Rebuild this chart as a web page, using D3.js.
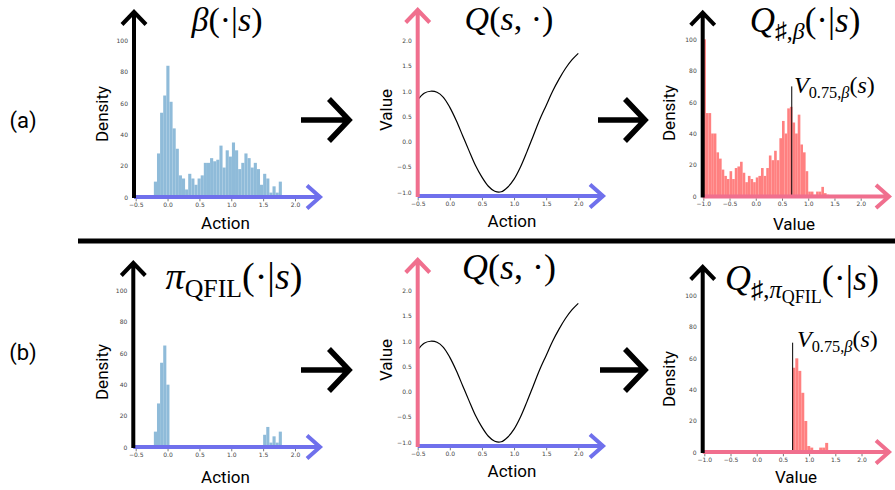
<!DOCTYPE html>
<html>
<head>
<meta charset="utf-8">
<script src="https://cdn.jsdelivr.net/npm/d3@7"></script>
<style>
  body { margin: 0; background: #fff; }
  svg { display: block; }
</style>
</head>
<body>
<div class="canvas"></div>
<script>
// ---- data ----
const actionTicks = [-0.5, 0, 0.5, 1, 1.5, 2];
const valueTicks = [-1, -0.5, 0, 0.5, 1, 1.5, 2];
const densityTicks = [0, 20, 40, 60, 80, 100];

// behaviour policy beta(.|s) histogram (action bins)
const betaStart = -0.215, betaWidth = 0.049;
const betaCounts = [10, 28, 54, 65, 84, 61, 44, 31, 14, 12, 5, 15, 12, 8, 12, 14, 22, 22, 25, 23,
  24, 33, 19, 30, 26, 35, 30, 18, 22, 28, 25, 19, 22, 18, 8, 15, 12, 3, 7, 3, 10];

// pi_QFIL(.|s) histogram, same bins
const qfilCounts = [10, 28, 54, 65, 40, 0, 0, 0, 0, 0, 0, 0, 0, 0, 0, 0, 0, 0, 0, 0,
  0, 0, 0, 0, 0, 0, 0, 0, 0, 0, 0, 0, 0, 0, 0, 8, 13, 3, 7, 3, 10, 1, 0, 1];

// Q(s,.) curve
const qActions = [-0.5, -0.4, -0.3, -0.2, -0.1, 0, 0.1, 0.2, 0.3, 0.4, 0.5, 0.6, 0.7, 0.8,
  0.9, 1.0, 1.1, 1.2, 1.3, 1.4, 1.5, 1.6, 1.7, 1.8, 1.9, 2.0];
const qValues = [0.83, 0.96, 1.0, 0.98, 0.88, 0.68, 0.42, 0.12, -0.18, -0.47, -0.70, -0.88, -0.98, -0.99,
  -0.90, -0.74, -0.50, -0.20, 0.12, 0.44, 0.72, 1.0, 1.24, 1.45, 1.62, 1.75];

// Q values under beta
const qBetaStart = -1.0, qBetaWidth = 0.05;
const qBetaCounts = [100, 53, 53, 40, 40, 28, 24, 17, 13, 11, 16, 11, 18, 19, 22, 15, 9, 13, 11, 9,
  12, 13, 18, 13, 18, 26, 23, 29, 23, 37, 48, 40, 56, 57, 47, 40, 52, 33, 28, 16,
  3, 3, 1, 3, 3, 6, 2, 1];

// Q values under pi_QFIL
const qQfilStart = 0.68, qQfilWidth = 0.057;
const qQfilCounts = [54, 60, 52, 38, 20, 4, 3, 1, 1, 3, 3, 6];

// quantile marker V_0.75,beta(s)
const quantileValue = 0.686;
const quantileTop = 70;

// ---- look ----
const blue = '#6f70ec';
const pink = '#f06f8e';
const histBlue = '#8fbbd9';
const histRed = '#ff8080';

const svg = d3.select('.canvas')
  .append('svg')
    .attr('width', 895)
    .attr('height', 490);

// panel layouts (pixel positions of the matplotlib axes)
const panels = {
  beta:   {ax: 134, ay: 197, xd: [-0.5, 2], xr: [135.7, 295], yd: [0, 100], yr: [197.3, 40.7], tipY: 12, tipX: 320, yCol: '#000', xCol: blue},
  qTop:   {ax: 417.7, ay: 196, xd: [-0.5, 2], xr: [417.7, 578.3], yd: [-1, 2], yr: [192.3, 40.7], tipY: 10, tipX: 603, yCol: pink, xCol: blue},
  qbTop:  {ax: 702.7, ay: 196.5, xd: [-1, 2], xr: [703.3, 860.7], yd: [0, 100], yr: [196.3, 39.3], tipY: 12.7, tipX: 889, yCol: '#000', xCol: pink},
  qfil:   {ax: 133.3, ay: 447, xd: [-0.5, 2], xr: [135.7, 295], yd: [0, 100], yr: [447.3, 290.7], tipY: 263, tipX: 320, yCol: '#000', xCol: blue},
  qBot:   {ax: 417.7, ay: 446, xd: [-0.5, 2], xr: [417.7, 578.3], yd: [-1, 2], yr: [442.3, 290.7], tipY: 260, tipX: 603, yCol: pink, xCol: blue},
  qqBot:  {ax: 702.7, ay: 452, xd: [-1, 2], xr: [704.3, 861.5], yd: [0, 100], yr: [452.3, 295.7], tipY: 267, tipX: 889, yCol: '#000', xCol: pink}
};

Object.values(panels).forEach(p => {
  p.x = d3.scaleLinear().domain(p.xd).range(p.xr);
  p.y = d3.scaleLinear().domain(p.yd).range(p.yr);
  p.g = svg.append('g');
});

const drawTicks = (p, xt, yt) => {
  const fmt = d3.format('.1f');
  const xAxis = d3.axisBottom(p.x).tickValues(xt).tickSize(2.5).tickPadding(1).tickFormat(fmt);
  const yFmt = p.yd[1] > 10 ? d3.format('d') : fmt;
  const yAxis = d3.axisLeft(p.y).tickValues(yt).tickSize(0).tickPadding(4).tickFormat(yFmt);
  p.g.append('g')
    .attr('transform', `translate(0, ${p.ay + 1.8})`)
    .call(xAxis)
    .call(g => g.select('.domain').remove());
  p.g.append('g')
    .attr('transform', `translate(${p.ax - 2}, 0)`)
    .call(yAxis)
    .call(g => g.select('.domain').remove());
  p.g.selectAll('.tick text')
    .attr('font-family', 'DejaVu Sans')
    .attr('font-size', 6)
    .attr('fill', '#444');
  p.g.selectAll('.tick line').attr('stroke', '#555').attr('stroke-width', 0.8);
};

const drawHist = (p, start, width, counts, color) => {
  p.g.selectAll('rect.bar')
    .data(counts)
    .enter()
    .append('rect')
      .attr('class', 'bar')
      .attr('x', (d, i) => p.x(start + i * width))
      .attr('width', p.x(start + width) - p.x(start))
      .attr('y', d => p.y(d))
      .attr('height', d => p.y(0) - p.y(d))
      .attr('fill', color);
};

const drawFrame = (p) => {
  const lw = 4;
  // x axis
  p.g.append('path')
    .attr('d', `M${p.ax},${p.ay} H${p.tipX} M${p.tipX - 13},${p.ay - 11.5} L${p.tipX},${p.ay} L${p.tipX - 13},${p.ay + 11.5}`)
    .attr('fill', 'none').attr('stroke', p.xCol).attr('stroke-width', lw);
  // y axis
  p.g.append('path')
    .attr('d', `M${p.ax},${p.ay + 1} V${p.tipY} M${p.ax - 12},${p.tipY + 12.5} L${p.ax},${p.tipY} L${p.ax + 12},${p.tipY + 12.5}`)
    .attr('fill', 'none').attr('stroke', p.yCol).attr('stroke-width', lw);
};

const drawQuantile = (p, labelX, labelY) => {
  p.g.append('line')
    .attr('x1', p.x(quantileValue)).attr('x2', p.x(quantileValue))
    .attr('y1', p.y(0)).attr('y2', p.y(quantileTop))
    .attr('stroke', '#000').attr('stroke-width', 1);
  mathText(labelX, labelY, 24, 'start', [
    {t: 'V', i: 1}, {t: '0.75,', s: 1}, {t: 'β', s: 1, i: 1}, {t: '('}, {t: 's', i: 1}, {t: ')'}
  ]);
};

// text with sub / subsub levels
function mathText(x, y, size, anchor, parts) {
  const t = svg.append('text')
    .attr('x', x).attr('y', y)
    .attr('text-anchor', anchor)
    .attr('font-family', 'Liberation Serif, DejaVu Serif, serif')
    .attr('font-size', size)
    .attr('fill', '#000');
  let shift = 0;
  parts.forEach(pt => {
    const lvl = pt.s || 0;
    const target = lvl === 0 ? 0 : lvl === 1 ? size * 0.22 : size * 0.36;
    const fs = lvl === 0 ? size : lvl === 1 ? size * 0.68 : size * 0.5;
    t.append('tspan')
      .attr('dy', target - shift)
      .attr('font-size', fs)
      .attr('font-style', pt.i ? 'italic' : 'normal')
      .text(pt.t);
    shift = target;
  });
  return t;
}

function label(x, y, text, rotate) {
  svg.append('text')
    .attr('transform', `translate(${x}, ${y})` + (rotate ? ' rotate(-90)' : ''))
    .attr('text-anchor', 'middle')
    .attr('font-family', 'Roboto')
    .attr('font-size', 17)
    .attr('fill', '#000')
    .text(text);
}

// ---- histograms ----
drawTicks(panels.beta, actionTicks, densityTicks);
drawHist(panels.beta, betaStart, betaWidth, betaCounts, histBlue);
drawFrame(panels.beta);

drawTicks(panels.qfil, actionTicks, densityTicks);
drawHist(panels.qfil, betaStart, betaWidth, qfilCounts, histBlue);
drawFrame(panels.qfil);

drawTicks(panels.qbTop, valueTicks, densityTicks);
drawHist(panels.qbTop, qBetaStart, qBetaWidth, qBetaCounts, histRed);
drawQuantile(panels.qbTop, 794, 93);
drawFrame(panels.qbTop);

drawTicks(panels.qqBot, valueTicks, densityTicks);
drawHist(panels.qqBot, qQfilStart, qQfilWidth, qQfilCounts, histRed);
drawQuantile(panels.qqBot, 797, 347);
drawFrame(panels.qqBot);

// ---- Q curves ----
[panels.qTop, panels.qBot].forEach(p => {
  drawTicks(p, actionTicks, valueTicks);
  const line = d3.line()
    .x((d, i) => p.x(qActions[i]))
    .y(d => p.y(d))
    .curve(d3.curveCatmullRom);
  p.g.append('path')
    .attr('d', line(qValues))
    .attr('fill', 'none')
    .attr('stroke', '#000')
    .attr('stroke-width', 1.2);
  drawFrame(p);
});

// ---- titles ----
mathText(227, 30.5, 34, 'middle', [{t: 'β', i: 1}, {t: '(·|'}, {t: 's', i: 1}, {t: ')'}]);
mathText(509, 30.3, 34, 'middle', [{t: 'Q', i: 1}, {t: '('}, {t: 's', i: 1}, {t: ', ·)'}]);
mathText(805, 31.5, 35, 'middle', [{t: 'Q', i: 1}, {t: '♯,', s: 1}, {t: 'β', s: 1, i: 1}, {t: '(·|'}, {t: 's', i: 1}, {t: ')'}]);
mathText(234, 289, 38, 'middle', [{t: 'π', i: 1}, {t: 'QFIL', s: 1}, {t: '(·|'}, {t: 's', i: 1}, {t: ')'}]);
mathText(509, 279, 36, 'middle', [{t: 'Q', i: 1}, {t: '('}, {t: 's', i: 1}, {t: ', ·)'}]);
mathText(802, 290, 36, 'middle', [{t: 'Q', i: 1}, {t: '♯,', s: 1}, {t: 'π', s: 1, i: 1}, {t: 'QFIL', s: 2}, {t: '(·|'}, {t: 's', i: 1}, {t: ')'}]);

// ---- axis labels ----
label(108, 114, 'Density', true);
label(392, 110, 'Value', true);
label(675, 113, 'Density', true);
label(225.5, 229, 'Action');
label(512, 227, 'Action');
label(794, 230, 'Value');

label(108, 372, 'Density', true);
label(392, 360, 'Value', true);
label(675, 379, 'Density', true);
label(225.5, 483, 'Action');
label(512, 477, 'Action');
label(796, 483, 'Value');

// ---- row tags, divider, arrows ----
svg.append('text').attr('x', 23).attr('y', 120).attr('dy', '0.35em')
  .attr('text-anchor', 'middle').attr('font-family', 'Roboto').attr('font-size', 22).text('(a)');
svg.append('text').attr('x', 23).attr('y', 352).attr('dy', '0.35em')
  .attr('text-anchor', 'middle').attr('font-family', 'Roboto').attr('font-size', 22).text('(b)');

svg.append('rect').attr('x', 78).attr('y', 238.5).attr('width', 817).attr('height', 5).attr('fill', '#000');

const bigArrows = [[301, 349, 120], [598, 645, 120], [301, 349, 370], [600, 645, 370]];
svg.selectAll('path.big')
  .data(bigArrows)
  .enter()
  .append('path')
    .attr('class', 'big')
    .attr('d', d => `M${d[0]},${d[2]} H${d[1] - 1} M${d[1] - 20},${d[2] - 21} L${d[1]},${d[2]} L${d[1] - 20},${d[2] + 21}`)
    .attr('fill', 'none')
    .attr('stroke', '#000')
    .attr('stroke-width', 5.5);
</script>
</body>
</html>
